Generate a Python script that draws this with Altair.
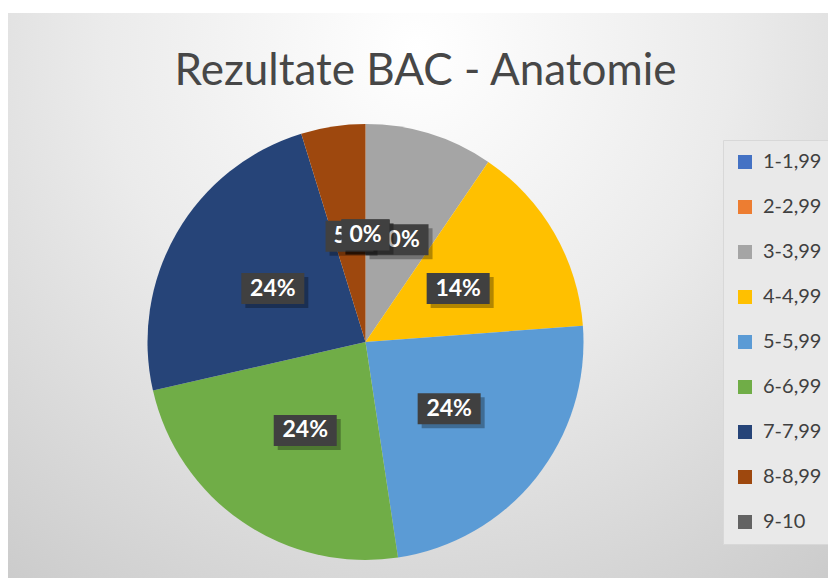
import altair as alt
import pandas as pd

# ---- data ----
categories = ["1-1,99", "2-2,99", "3-3,99", "4-4,99", "5-5,99",
              "6-6,99", "7-7,99", "8-8,99", "9-10"]
counts = [0, 0, 2, 3, 5, 5, 5, 1, 0]
colors = ["#4472C4", "#ED7D31", "#A5A5A5", "#FFC000", "#5B9BD5",
          "#70AD47", "#264478", "#9E480E", "#636363"]
chart_title = "Rezultate BAC - Anatomie"

df = pd.DataFrame({"cat": categories, "n": counts, "idx": list(range(len(categories)))})

# ---- layout ----
W, H = 820, 570
CX, CY, R = 357.5, 334, 218
LR = 107          # label radius
BOX_H = 31

base = alt.Chart(df)

# background with radial gradient
bg = alt.Chart(alt.Data(values=[{"a": 1}])).mark_rect(
    color=alt.Gradient(
        gradient="radial",
        x1=0.5, y1=0.2, x2=0.5, y2=0.2, r1=0, r2=0.85,
        stops=[alt.GradientStop(color="#ffffff", offset=0),
               alt.GradientStop(color="#ebebeb", offset=0.45),
               alt.GradientStop(color="#c9c9c9", offset=1)],
    )
).encode(x=alt.value(-2), x2=alt.value(W), y=alt.value(5), y2=alt.value(H))

pie = base.mark_arc(radius=R, strokeWidth=0).encode(
    theta=alt.Theta("n:Q", stack=True),
    color=alt.Color(
        "cat:N",
        scale=alt.Scale(domain=categories, range=colors),
        legend=alt.Legend(
            title=None, orient="none", legendX=715, legendY=132,
            symbolType="square", symbolSize=196, symbolStrokeWidth=0,
            labelFontSize=20, labelFont="Lato", labelColor="#404040",
            labelOffset=8, rowPadding=25, padding=12,
            fillColor="#e9e9e9", strokeColor="#d8d8d8",
        ),
    ),
    order=alt.Order("idx:Q"),
    x=alt.value(CX), y=alt.value(CY),
)

lab = base.transform_joinaggregate(total="sum(n)").transform_window(
    cum="sum(n)", sort=[alt.SortField("idx")], frame=[None, 0]
).transform_calculate(
    mid="(datum.cum - datum.n/2)/datum.total*2*PI",
    lx=f"{CX} + {LR}*sin(datum.mid)",
    ly=f"{CY} - {LR}*cos(datum.mid)",
    pct="format(datum.n/datum.total, '.0%')",
    hw="(15*length(datum.pct)+18)/2",
    bx1="datum.lx - datum.hw", bx2="datum.lx + datum.hw",
    by1=f"datum.ly - {BOX_H/2}", by2=f"datum.ly + {BOX_H/2}",
    sx1="datum.bx1 + 4", sx2="datum.bx2 + 4",
    sy1="datum.by1 + 4", sy2="datum.by2 + 4",
)

label_layers = []
for i in range(len(categories)):
    f = lab.transform_filter(f"datum.idx == {i}")
    shadow = f.mark_rect(color="#000000", opacity=0.3).encode(
        x=alt.X("sx1:Q", scale=None, axis=None), x2="sx2:Q",
        y=alt.Y("sy1:Q", scale=None, axis=None), y2="sy2:Q",
    )
    box = f.mark_rect(color="#404040").encode(
        x=alt.X("bx1:Q", scale=None, axis=None), x2="bx2:Q",
        y=alt.Y("by1:Q", scale=None, axis=None), y2="by2:Q",
    )
    txt = f.mark_text(color="white", font="Lato", fontWeight="bold", fontSize=23,
                      baseline="middle", align="center").encode(
        x=alt.X("lx:Q", scale=None, axis=None),
        y=alt.Y("ly:Q", scale=None, axis=None),
        text="pct:N",
    )
    label_layers += [shadow, box, txt]

title = alt.Chart(alt.Data(values=[{"t": chart_title}])).mark_text(
    font="Lato", fontSize=44, color="#474747", baseline="alphabetic", align="center"
).encode(text="t:N", x=alt.value(417.5), y=alt.value(77))

chart = alt.layer(bg, pie, *label_layers, title).properties(
    width=W, height=H, autosize="none", padding=0, background="white"
).configure_view(stroke=None)

chart.save("out.html", embed_options={"renderer": "svg", "actions": False})
